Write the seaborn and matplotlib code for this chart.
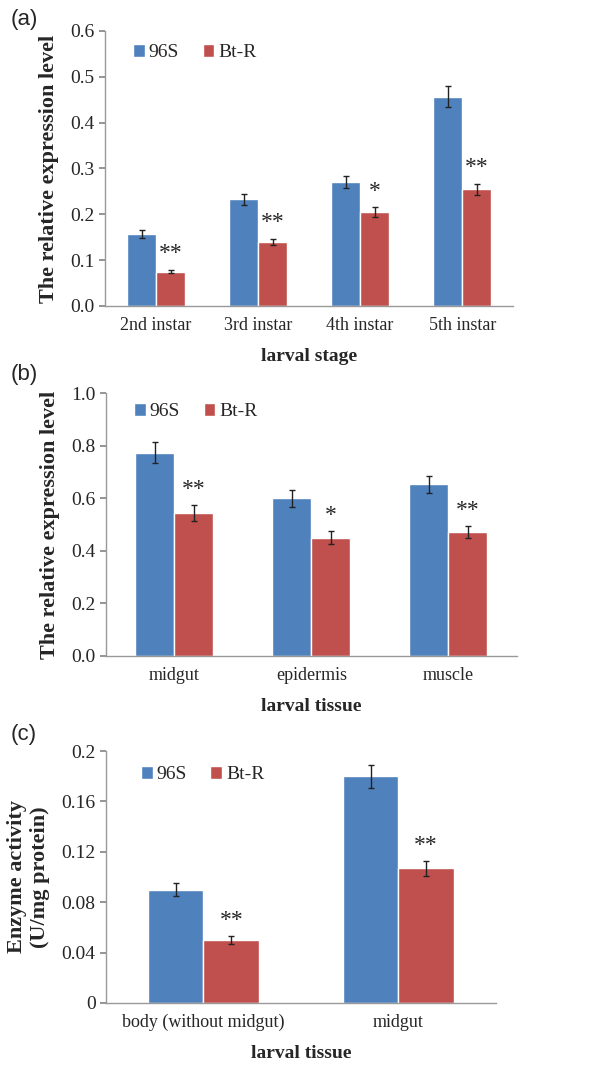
import matplotlib
matplotlib.use("Agg")
import matplotlib.pyplot as plt
import seaborn as sns
import pandas as pd
import numpy as np

sns.set_theme(style="white")
plt.rcParams['font.family'] = ['Liberation Serif', 'DejaVu Serif']

groups = ["96S", "Bt-R"]
colors = ["#4F81BD", "#C0504D"]

# (a) larval stage
stages = ["2nd instar", "3rd instar", "4th instar", "5th instar"]
stage_96s = [0.157, 0.233, 0.270, 0.457]
stage_btr = [0.075, 0.140, 0.205, 0.255]
stage_96s_err = [0.008, 0.012, 0.013, 0.022]
stage_btr_err = [0.004, 0.007, 0.010, 0.012]
stage_sig = ["**", "**", "*", "**"]

# (b) larval tissue expression
tissues = ["midgut", "epidermis", "muscle"]
tissue_96s = [0.772, 0.600, 0.653]
tissue_btr = [0.543, 0.450, 0.472]
tissue_96s_err = [0.040, 0.032, 0.033]
tissue_btr_err = [0.030, 0.024, 0.023]
tissue_sig = ["**", "*", "**"]

# (c) enzyme activity
enz_tissues = ["body (without midgut)", "midgut"]
enz_96s = [0.090, 0.180]
enz_btr = [0.050, 0.107]
enz_96s_err = [0.005, 0.009]
enz_btr_err = [0.003, 0.006]
enz_sig = ["**", "**"]


def panel(ax, cats, v1, v2, e1, e2, sig, ylim, yticks, yfmt, ylabel, xlabel, legend_anchor):
    df = pd.DataFrame({
        "cat": cats * 2,
        "group": [groups[0]] * len(cats) + [groups[1]] * len(cats),
        "value": v1 + v2,
        "err": e1 + e2,
    })
    sns.barplot(data=df, x="cat", y="value", hue="group", palette=colors,
                width=0.57, errorbar=None, saturation=1, ax=ax)
    # error bars and significance marks on top of the drawn bars
    bars = ax.patches[:2 * len(cats)]
    for i, p in enumerate(bars):
        x = p.get_x() + p.get_width() / 2
        h = p.get_height()
        err = df["err"].iloc[i]
        ax.errorbar(x, h, yerr=err, color="#222222", capsize=2.5, elinewidth=1, capthick=1)
        if i >= len(cats):
            ax.text(x, h + err + (ylim[1] - ylim[0]) * 0.02, sig[i - len(cats)],
                    ha="center", va="bottom", fontsize=17)
    ax.set_ylim(*ylim)
    ax.set_xlim(-0.5, len(cats) - 0.5)
    ax.set_yticks(yticks)
    ax.set_yticklabels([yfmt.format(t) for t in yticks])
    ax.set_xticks(range(len(cats)))
    ax.set_xticklabels(cats)
    ax.set_xticks(np.arange(-0.5, len(cats), 1.0), minor=True)
    ax.tick_params(axis="x", which="major", length=0, labelsize=13, pad=8)
    ax.tick_params(axis="x", which="minor", length=4, color="#888888", direction="out")
    ax.tick_params(axis="y", length=4, color="#888888", direction="out", labelsize=14, left=True)
    for s in ["top", "right"]:
        ax.spines[s].set_visible(False)
    for s in ["left", "bottom"]:
        ax.spines[s].set_color("#999999")
        ax.spines[s].set_linewidth(1)
    ax.set_ylabel(ylabel, fontsize=16, fontweight="bold", labelpad=8)
    ax.set_xlabel(xlabel, fontsize=14, fontweight="bold", labelpad=10)
    ax.legend(loc="upper left", bbox_to_anchor=legend_anchor, ncol=2, frameon=False,
              handlelength=0.6, handleheight=0.6, handletextpad=0.2, columnspacing=1.2,
              fontsize=14, borderaxespad=0)


fig = plt.figure(figsize=(6.11, 10.68), dpi=100)
ax_a = fig.add_axes([0.172, 0.7135, 0.668, 0.2575])
ax_b = fig.add_axes([0.1735, 0.3858, 0.672, 0.2462])
ax_c = fig.add_axes([0.1735, 0.0609, 0.638, 0.2359])

panel(ax_a, stages, stage_96s, stage_btr, stage_96s_err, stage_btr_err, stage_sig,
      (0, 0.6), [0, 0.1, 0.2, 0.3, 0.4, 0.5, 0.6], "{:.1f}",
      "The relative expression level", "larval stage", (0.05, 0.98))
panel(ax_b, tissues, tissue_96s, tissue_btr, tissue_96s_err, tissue_btr_err, tissue_sig,
      (0, 1.0), [0, 0.2, 0.4, 0.6, 0.8, 1.0], "{:.1f}",
      "The relative expression level", "larval tissue", (0.05, 0.99))
panel(ax_c, enz_tissues, enz_96s, enz_btr, enz_96s_err, enz_btr_err, enz_sig,
      (0, 0.2), [0, 0.04, 0.08, 0.12, 0.16, 0.2], "{:g}",
      "Enzyme activity\n(U/mg protein)", "larval tissue", (0.07, 0.97))

for lab, y in [("(a)", 0.982), ("(b)", 0.649), ("(c)", 0.312)]:
    fig.text(0.018, y, lab, fontsize=16, family="Liberation Sans", va="center")

fig.savefig("out.png", dpi=100)
